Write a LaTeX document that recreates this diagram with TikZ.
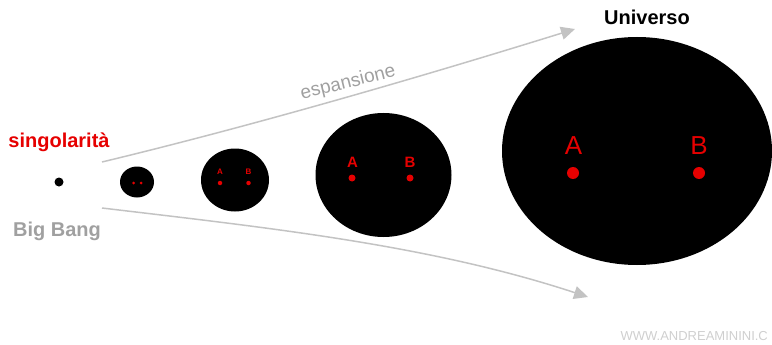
\documentclass[tikz,border=0pt]{standalone}
\usepackage{fontspec}
\setmainfont{Liberation Sans}
\usetikzlibrary{arrows.meta}
\definecolor{myred}{RGB}{230,0,0}
\definecolor{mygray}{RGB}{195,195,195}
\definecolor{txtgray}{RGB}{160,160,160}
\begin{document}
\begin{tikzpicture}[x=1pt,y=-1pt,
  blob/.style={fill=black,draw=none},
  rdot/.style={circle,fill=myred,inner sep=0pt},
  rlet/.style={text=myred,inner sep=0pt},
  flow/.style={draw=mygray,line width=1.5pt,-{Triangle[length=14pt,width=13pt]}}]
\useasboundingbox (0,0) rectangle (772,345);
% universe stages
\fill[blob] (59,182) circle (4.5);
\fill[blob] (137,182) ellipse (17 and 15.5);
\node[rdot,minimum size=3pt] (a1) at (133.5,183) {};
\node[rdot,minimum size=3pt] (b1) at (141,183) {};
\fill[blob] (235,180) ellipse (34 and 31.5);
\node[rlet,font=\bfseries\fontsize{8}{8}\selectfont] (a2l) at (220,172) {A};
\node[rlet,font=\bfseries\fontsize{8}{8}\selectfont] (b2l) at (248.5,172) {B};
\node[rdot,minimum size=4.5pt] (a2) at (220,183) {};
\node[rdot,minimum size=4.5pt] (b2) at (248.5,183) {};
\fill[blob] (383.5,175) ellipse (68 and 62);
\node[rlet,font=\bfseries\fontsize{15}{15}\selectfont] (a3l) at (352.5,162.5) {A};
\node[rlet,font=\bfseries\fontsize{15}{15}\selectfont] (b3l) at (410,162.5) {B};
\node[rdot,minimum size=7pt] (a3) at (352,178) {};
\node[rdot,minimum size=7pt] (b3) at (410,178) {};
\fill[blob] (637,151) ellipse (135 and 114);
\node[rlet,font=\fontsize{26}{26}\selectfont] (a4l) at (573.5,146) {A};
\node[rlet,font=\fontsize{26}{26}\selectfont] (b4l) at (699,146) {B};
\node[rdot,minimum size=12pt] (a4) at (573,173) {};
\node[rdot,minimum size=12pt] (b4) at (699,173) {};
% labels
\node[text=myred,font=\bfseries\fontsize{20}{20}\selectfont] (sing) at (59,142) {singolarità};
\node[text=txtgray,font=\bfseries\fontsize{20}{20}\selectfont] (bb) at (57,231) {Big Bang};
\node[font=\bfseries\fontsize{20}{20}\selectfont] (univ) at (647,17) {Universo};
\node[text=txtgray,font=\fontsize{19}{19}\selectfont,rotate=14,inner sep=0pt] (esp) at (348,83) {espansione};
\node[text=mygray!80,font=\fontsize{13}{13}\selectfont,anchor=west] (www) at (617,336) {WWW.ANDREAMININI.C};
% arrows
\coordinate (s1) at (102,162);
\coordinate (e1) at (575,29);
\coordinate (s2) at (102,208);
\coordinate (e2) at (588,297);
\draw[flow] (s1) .. controls (260,124) and (430,74) .. (e1);
\draw[flow] (s2) .. controls (270,228) and (430,245) .. (e2);
\end{tikzpicture}
\end{document}
